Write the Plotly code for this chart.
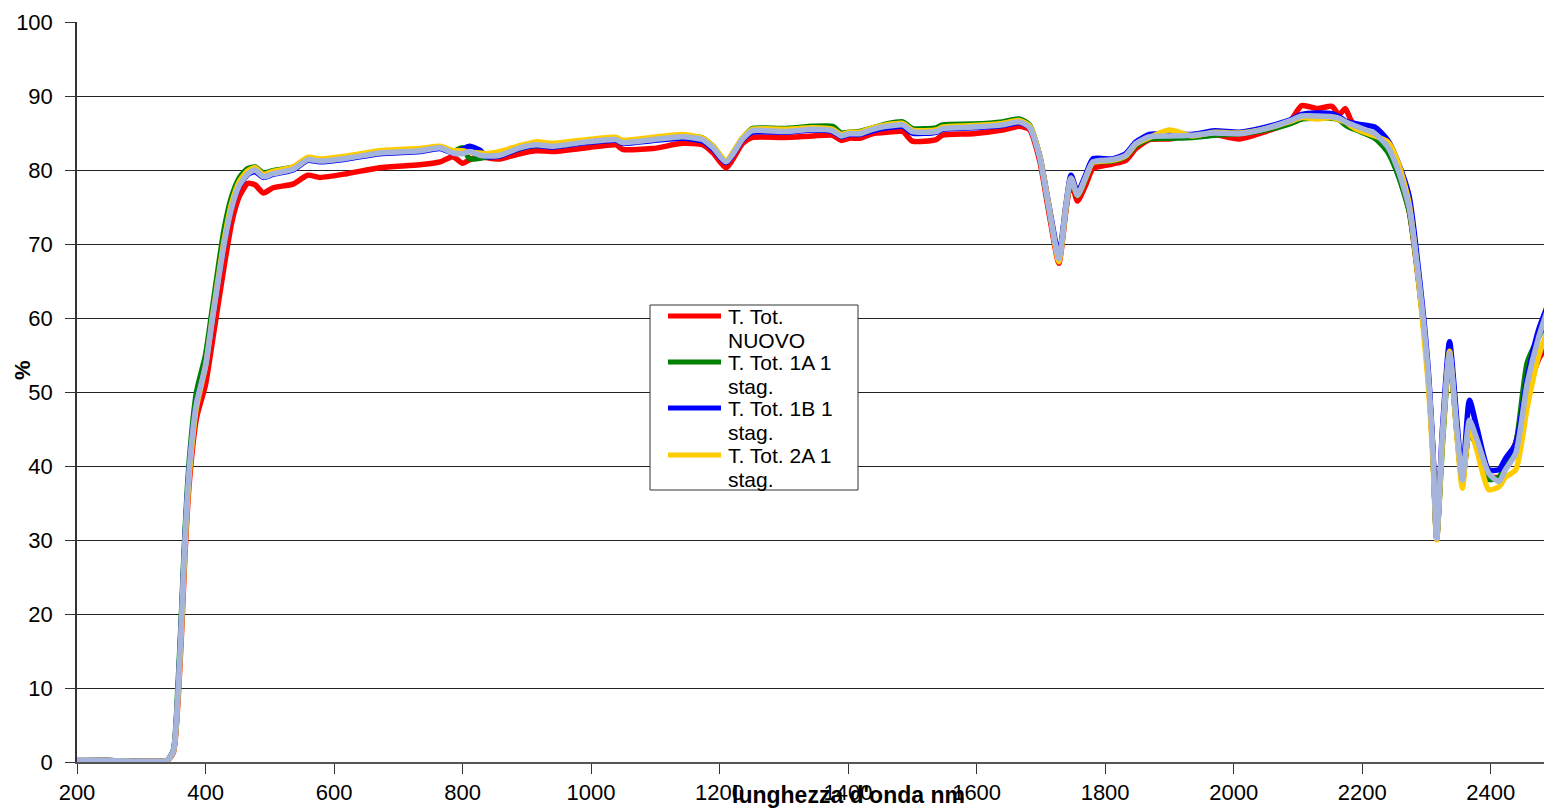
import plotly.graph_objects as go

wavelength = [200, 250, 300, 340, 350, 357, 363, 368, 375, 386, 400, 411, 429, 441, 453, 466, 477, 490, 505, 536,
              559, 578, 620, 671, 733, 765, 785, 800, 811, 827, 837, 858, 889, 915, 940, 993, 1039, 1049, 1096, 1142,
              1174, 1190, 1210, 1236, 1251, 1300, 1345, 1376, 1389, 1402, 1418, 1438, 1459, 1485, 1500, 1537, 1547,
              1594, 1640, 1666, 1682, 1698, 1713, 1728, 1739, 1747, 1757, 1770, 1781, 1811, 1832, 1848, 1869, 1900,
              1936, 1970, 2009, 2050, 2086, 2106, 2130, 2153, 2164, 2174, 2182, 2194, 2220, 2240, 2256, 2273, 2289,
              2302, 2310, 2316, 2325, 2336, 2348, 2356, 2367, 2379, 2397, 2413, 2423, 2439, 2457, 2475, 2490]

nuovo = [0.3, 0.2, 0.1, 0.2, 1.3, 8, 18, 28, 38, 46.5, 51, 57, 67, 73, 76.5, 78.2, 78.0, 76.9, 77.6, 78.1,
         79.3, 79.0, 79.5, 80.3, 80.7, 81.1, 81.8, 80.9, 81.4, 81.9, 81.7, 81.5, 82.2, 82.6, 82.5, 83.0, 83.4, 82.8, 82.9, 83.6,
         83.4, 82.3, 80.3, 83.6, 84.4, 84.4, 84.6, 84.7, 84.0, 84.3, 84.3, 84.9, 85.1, 85.2, 83.9, 84.1, 84.7,
         84.9, 85.4, 85.9, 85.5, 81.3, 74.0, 67.4, 74.5, 78.4, 75.8, 78.0, 80.2, 80.8, 81.3, 82.9, 84.1, 84.2,
         84.8, 84.8, 84.2, 85.2, 86.4, 88.7, 88.3, 88.6, 87.5, 88.3, 86.8, 85.5, 84.4, 82.6, 79.5, 74.5, 64.0,
         53.0, 42.0, 30.3, 44.0, 55.0, 44.0, 37.8, 44.8, 42.5, 38.6, 38.5, 40.0, 43.2, 50.0, 54.5, 56.5]

s1a = [0.3, 0.2, 0.1, 0.2, 1.6, 10, 21, 31, 41, 50, 55, 61.5, 72, 76.5, 79, 80.2, 80.4, 79.6, 79.9, 80.4,
       81.5, 81.3, 81.8, 82.4, 82.7, 83.0, 82.5, 83.0, 81.5, 81.6, 81.7, 82.2, 82.9, 83.3, 83.2, 83.8, 84.1, 83.8, 84.2, 84.6,
       84.3, 83.2, 81.2, 84.3, 85.6, 85.6, 85.9, 85.9, 85.0, 85.1, 85.2, 85.7, 86.2, 86.5, 85.6, 85.7, 86.1,
       86.2, 86.5, 86.9, 86.1, 81.9, 74.6, 68.0, 74.9, 78.8, 76.5, 78.9, 81.0, 81.2, 81.8, 83.3, 84.2, 84.3,
       84.4, 84.7, 84.9, 85.4, 86.2, 86.9, 87.0, 87.0, 86.8, 86.1, 85.7, 85.3, 84.3, 82.4, 79.3, 74.5, 64.3,
       53.0, 42.0, 30.2, 43.0, 55.0, 44.0, 37.9, 44.7, 42.5, 38.2, 38.5, 40.0, 43.0, 54.0, 57.5, 60.0]

s1b = [0.3, 0.2, 0.1, 0.2, 1.5, 9, 20, 30, 40, 48.5, 53.5, 60, 70, 75, 77.9, 79.4, 79.8, 79.0, 79.4, 80.0,
       81.3, 81.1, 81.5, 82.2, 82.5, 82.9, 82.3, 82.8, 83.2, 82.7, 81.8, 81.9, 82.9, 83.3, 83.1, 83.7, 84.0, 83.6, 84.0, 84.3,
       83.9, 82.8, 81.0, 84.1, 85.1, 85.1, 85.4, 85.2, 84.5, 84.8, 84.8, 85.3, 85.7, 85.9, 85.0, 85.1, 85.5,
       85.7, 86.0, 86.4, 85.8, 82.0, 75.0, 68.5, 75.3, 79.3, 77.0, 79.4, 81.5, 81.5, 82.2, 83.8, 84.8, 84.9,
       84.8, 85.3, 85.1, 85.8, 86.7, 87.5, 87.7, 87.6, 87.2, 86.6, 86.4, 86.2, 85.8, 84.0, 81.0, 76.5, 65.5,
       54.0, 42.5, 30.3, 45.0, 56.8, 45.5, 38.5, 48.9, 45.0, 39.5, 39.5, 41.0, 43.0, 52.0, 58.5, 62.0]

s2a = [0.3, 0.2, 0.1, 0.2, 1.4, 8.5, 19, 29, 39, 48, 53.5, 60.2, 70.5, 75.6, 78.5, 79.9, 80.3, 79.4, 79.8, 80.4,
       81.7, 81.5, 81.9, 82.6, 82.9, 83.2, 82.6, 82.6, 82.4, 82.3, 82.2, 82.5, 83.3, 83.8, 83.6, 84.1, 84.4, 84.0, 84.4, 84.8,
       84.3, 83.2, 81.3, 84.4, 85.5, 85.5, 85.7, 85.5, 84.8, 85.1, 85.1, 85.7, 86.1, 86.3, 85.4, 85.4, 85.8,
       86.0, 86.3, 86.7, 86.0, 82.0, 74.8, 67.6, 75.0, 78.9, 76.6, 79.0, 81.0, 81.3, 81.9, 83.5, 84.4, 85.4,
       84.6, 85.1, 85.0, 85.6, 86.5, 87.1, 86.9, 87.1, 86.8, 86.5, 86.0, 85.4, 84.6, 83.8, 81.0, 75.5, 64.0,
       52.0, 41.0, 30.0, 43.5, 55.5, 43.5, 37.0, 45.3, 42.0, 36.8, 37.2, 38.5, 39.5, 48.0, 55.0, 58.5]

extra = [0.3, 0.2, 0.1, 0.2, 1.5, 9, 20, 30, 40, 48.5, 53.5, 60, 70, 75, 78, 79.5, 80.0, 79.1, 79.5, 80.1,
         81.4, 81.2, 81.6, 82.3, 82.6, 83.0, 82.3, 82.2, 82.5, 82.0, 81.9, 82.0, 83.0, 83.4, 83.2, 83.8, 84.1, 83.7, 84.1, 84.5,
         84.1, 83.0, 81.1, 84.2, 85.3, 85.2, 85.5, 85.3, 84.6, 84.9, 84.9, 85.5, 85.9, 86.1, 85.2, 85.2, 85.6,
         85.8, 86.1, 86.5, 85.8, 81.8, 74.6, 68.0, 75.0, 78.9, 76.6, 79.1, 81.1, 81.4, 82.0, 83.6, 84.5, 84.6,
         84.7, 85.0, 84.9, 85.6, 86.6, 87.3, 87.3, 87.2, 87.0, 86.5, 86.2, 85.8, 84.9, 83.1, 80.0, 75.0, 64.7,
         53.4, 42.2, 30.2, 44.4, 55.2, 44.4, 38.1, 46.2, 43.5, 39.0, 37.9, 39.5, 41.7, 51.2, 57.5, 61.5]

series_names = [["T. Tot.", "NUOVO"], ["T. Tot. 1A 1", "stag."], ["T. Tot. 1B 1", "stag."],
                ["T. Tot. 2A 1", "stag."], None]
series_values = [nuovo, s1a, s1b, s2a, extra]
series_colors = ["#FF0000", "#008000", "#0000FF", "#FFCC00", "#A5B4DB"]

x_ticks = [200, 400, 600, 800, 1000, 1200, 1400, 1600, 1800, 2000, 2200, 2400]
y_ticks = [0, 10, 20, 30, 40, 50, 60, 70, 80, 90, 100]

# plot area geometry in pixels
L, T, W, H = 77, 22, 1467, 740


def px(xp):
    return (xp - L) / W


def py(yp):
    return (T + H - yp) / H


fig = go.Figure()
for name, vals, color in zip(series_names, series_values, series_colors):
    fig.add_trace(go.Scatter(
        x=wavelength, y=vals, mode="lines",
        name=" ".join(name) if name else "",
        showlegend=False,
        line=dict(color=color, width=5.5, shape="spline", smoothing=0.6),
    ))

font = "Liberation Sans, Arial, sans-serif"

# custom legend (box, line samples, two-line labels)
shapes = [dict(type="rect", xref="paper", yref="paper", x0=px(650), x1=px(858), y0=py(490), y1=py(305),
               fillcolor="white", line=dict(color="#333333", width=1), layer="above")]
annotations = []
item_y = [316, 362, 408, 455]
for i, (name, color) in enumerate(zip(series_names[:4], series_colors[:4])):
    yy = item_y[i]
    shapes.append(dict(type="line", xref="paper", yref="paper", x0=px(668), x1=px(721), y0=py(yy), y1=py(yy),
                       line=dict(color=color, width=5), layer="above"))
    for j, txt in enumerate(name):
        annotations.append(dict(text=txt, xref="paper", yref="paper", x=px(726), y=py(yy + 24 * j),
                                xanchor="left", yanchor="middle", showarrow=False,
                                font=dict(size=21, family=font, color="black")))

annotations += [
    dict(text="<b>lunghezza d'onda nm</b>", xref="paper", yref="paper",
         x=px(848), y=py(795), xanchor="center", yanchor="middle",
         showarrow=False, font=dict(size=23, family=font)),
    dict(text="<b>%</b>", xref="paper", yref="paper", textangle=-90,
         x=px(22), y=py(370), xanchor="center", yanchor="middle",
         showarrow=False, font=dict(size=22, family=font)),
]

fig.update_layout(
    width=1544, height=810,
    margin=dict(l=L, r=0, t=T, b=810 - T - H),
    paper_bgcolor="white", plot_bgcolor="white",
    font=dict(family=font, size=22, color="black"),
    showlegend=False,
    xaxis=dict(
        range=[200, 2483], tickvals=x_ticks, ticktext=[str(v) for v in x_ticks],
        showgrid=False, zeroline=False, showline=True, linecolor="#555555", linewidth=1.5,
        ticks="outside", ticklen=10, tickcolor="#333333", tickfont=dict(size=22),
    ),
    yaxis=dict(
        range=[0, 100], tickvals=y_ticks, ticktext=[str(v) for v in y_ticks],
        showgrid=True, gridcolor="#222222", gridwidth=1, zeroline=False,
        showline=True, linecolor="#333333", linewidth=1.5,
        ticks="outside", ticklen=10, tickcolor="#333333", tickfont=dict(size=22),
        ticklabelstandoff=8,
    ),
    shapes=shapes,
    annotations=annotations,
)

fig.write_html("out.html")
